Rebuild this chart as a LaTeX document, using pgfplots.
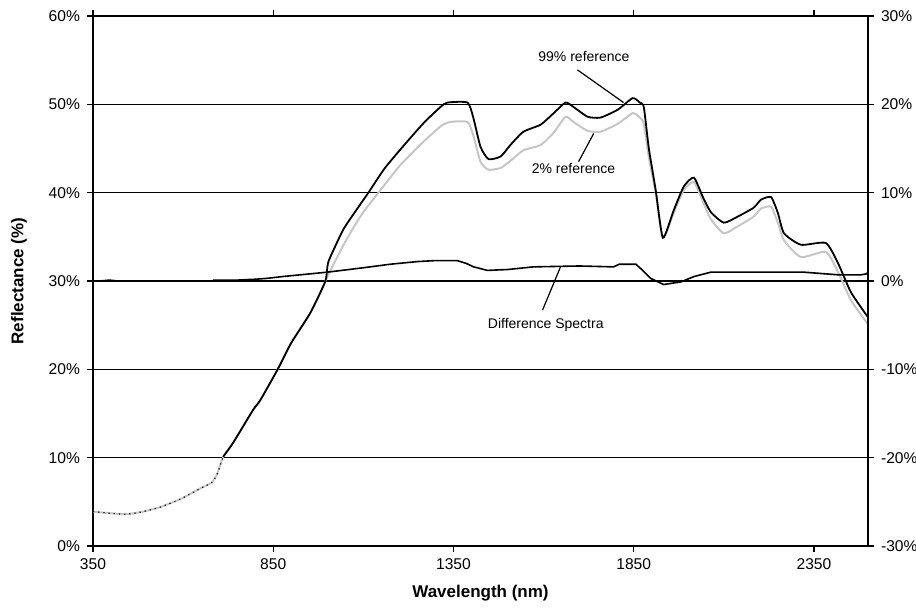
\documentclass[border=0pt]{standalone}
\usepackage{fontspec}
\setmainfont{Liberation Sans}
\usepackage{pgfplots}
\pgfplotsset{compat=1.18}

\pgfplotsset{
  refl/.style={
    scale only axis,
    width=387.5pt, height=265pt,
    xmin=350, xmax=2500,
    tick align=outside,
    major tick length=3pt,
    tick style={black, line width=0.6pt},
    axis line style={black, line width=0.8pt},
    ticklabel style={font=\fontsize{7.8}{9}\selectfont},
    /pgf/number format/assume math mode=true,
  }
}

\begin{document}
\begin{tikzpicture}
% left axis: reflectance
\begin{axis}[refl,
    ymin=0, ymax=60,
    xtick={350,850,1350,1850,2350},
    ytick={0,10,...,60},
    yticklabel={\pgfmathprintnumber{\tick}\%},
    ymajorgrids,
    grid style={black, line width=0.6pt},
    axis y line*=left,
    axis x line*=box,
    /pgf/number format/1000 sep={},
    clip=false,
]
% 2% reference (grey)
\addplot[gray!45, line width=1pt, smooth, tension=0.35] coordinates {
(350,3.9) (400,3.7) (444,3.6) (490,3.9) (536,4.4) (592,5.3) (647,6.5)
(680,7.2) (695,8.2) (711,10.1) (739,11.7) (794,15.4) (814,16.5) (861,19.9)
(900,23.0) (953,26.4) (994,29.9) (1000,30.5) (1044,34.0) (1069,35.8)
(1100,37.8) (1142,40.0) (1200,43.0) (1260,45.5) (1314,47.5) (1340,48.0)
(1389,48.0) (1405,46.5) (1425,43.5) (1447,42.6) (1481,42.8) (1508,43.6)
(1544,44.8) (1592,45.4) (1628,46.8) (1661,48.6) (1683,48.0) (1722,47.0)
(1758,46.9) (1806,47.8) (1847,49.0) (1867,48.5) (1878,47.8) (1892,44.0)
(1911,40.0) (1931,34.9) (1961,37.7) (1989,40.3) (2017,41.2) (2042,39.0)
(2064,37.0) (2100,35.4) (2139,36.2) (2183,37.3) (2203,38.2) (2231,38.4)
(2250,36.6) (2267,34.6) (2314,32.7) (2383,33.3) (2417,31.0) (2453,27.8)
(2500,25.1)
};
% 99% reference (black)
\addplot[black, line width=0.9pt, smooth, tension=0.35] coordinates {
(711,10.1) (739,11.7) (794,15.4) (814,16.5) (861,19.9)
(900,23.0) (953,26.4) (994,29.9) (1000,31.5) (1005,32.4) (1044,35.8)
(1080,38.0) (1114,40.0) (1160,42.8) (1222,45.8) (1270,48.0) (1314,49.7)
(1333,50.2) (1389,50.2) (1405,48.5) (1425,45.2) (1447,43.8) (1481,44.1)
(1508,45.4) (1544,46.9) (1592,47.7) (1628,49.0) (1661,50.2) (1683,49.7)
(1722,48.6) (1758,48.5) (1806,49.4) (1847,50.7) (1867,50.2) (1878,49.7)
(1892,45.0) (1911,40.3) (1931,34.9) (1961,38.0) (1989,40.7) (2017,41.7)
(2042,39.5) (2064,37.8) (2100,36.6) (2139,37.3) (2183,38.3) (2203,39.2)
(2231,39.5) (2250,37.7) (2267,35.4) (2314,34.1) (2383,34.3) (2417,32.0)
(2453,28.7) (2500,25.9)
};
% low-wavelength part drawn dotted black over grey
\addplot[black, line width=0.6pt, dotted, smooth, tension=0.35] coordinates {
(350,3.9) (400,3.7) (444,3.6) (490,3.9) (536,4.4) (592,5.3) (647,6.5)
(680,7.2) (695,8.2) (711,10.1)
};
% annotations
\node[font=\fontsize{7}{8}\selectfont] at (axis cs:1712,55.4) {99\% reference};
\draw[black, line width=0.6pt] (axis cs:1694,53.9) -- (axis cs:1822,50.2);
\node[font=\fontsize{7}{8}\selectfont] at (axis cs:1683,42.7) {2\% reference};
\draw[black, line width=0.6pt] (axis cs:1739,46.7) -- (axis cs:1697,43.5);
\node[font=\fontsize{7}{8}\selectfont] at (axis cs:1606,25.0) {Difference Spectra};
\draw[black, line width=0.6pt] (axis cs:1647,31.6) -- (axis cs:1597,26.7);
\end{axis}
% right axis: difference
\begin{axis}[refl,
    ymin=-30, ymax=30,
    ytick={-30,-20,...,30},
    yticklabel={\pgfmathprintnumber{\tick}\%},
    axis y line*=right,
    axis x line=none,
]
\addplot[black, line width=0.8pt] coordinates {(370,0.0) (395,0.1) (420,0.0)};
\addplot[black, line width=0.8pt] coordinates {
(683,0.1) (750,0.1) (800,0.2) (833,0.3) (875,0.5) (950,0.8) (1000,1.0)
(1100,1.5) (1175,1.9) (1250,2.2) (1295,2.3) (1361,2.3) (1385,2.0)
(1406,1.6) (1444,1.2) (1500,1.3) (1572,1.6) (1700,1.7) (1794,1.6)
(1810,1.9) (1856,1.9) (1875,1.2) (1897,0.3) (1933,-0.4) (1981,-0.1)
(2017,0.5) (2064,1.0) (2200,1.0) (2322,1.0) (2417,0.7) (2480,0.7)
(2495,0.8) (2500,1.0)
};
\end{axis}
\node[rotate=90, font=\bfseries\fontsize{8.5}{10}\selectfont] at (-37pt,132.5pt) {Reflectance (\%)};
\node[font=\bfseries\fontsize{8.5}{10}\selectfont] at (193.75pt,-23.5pt) {Wavelength (nm)};
\pgfresetboundingbox
\path (-46.5pt,-32.5pt) rectangle (411.5pt,273pt);
\end{tikzpicture}
\end{document}
